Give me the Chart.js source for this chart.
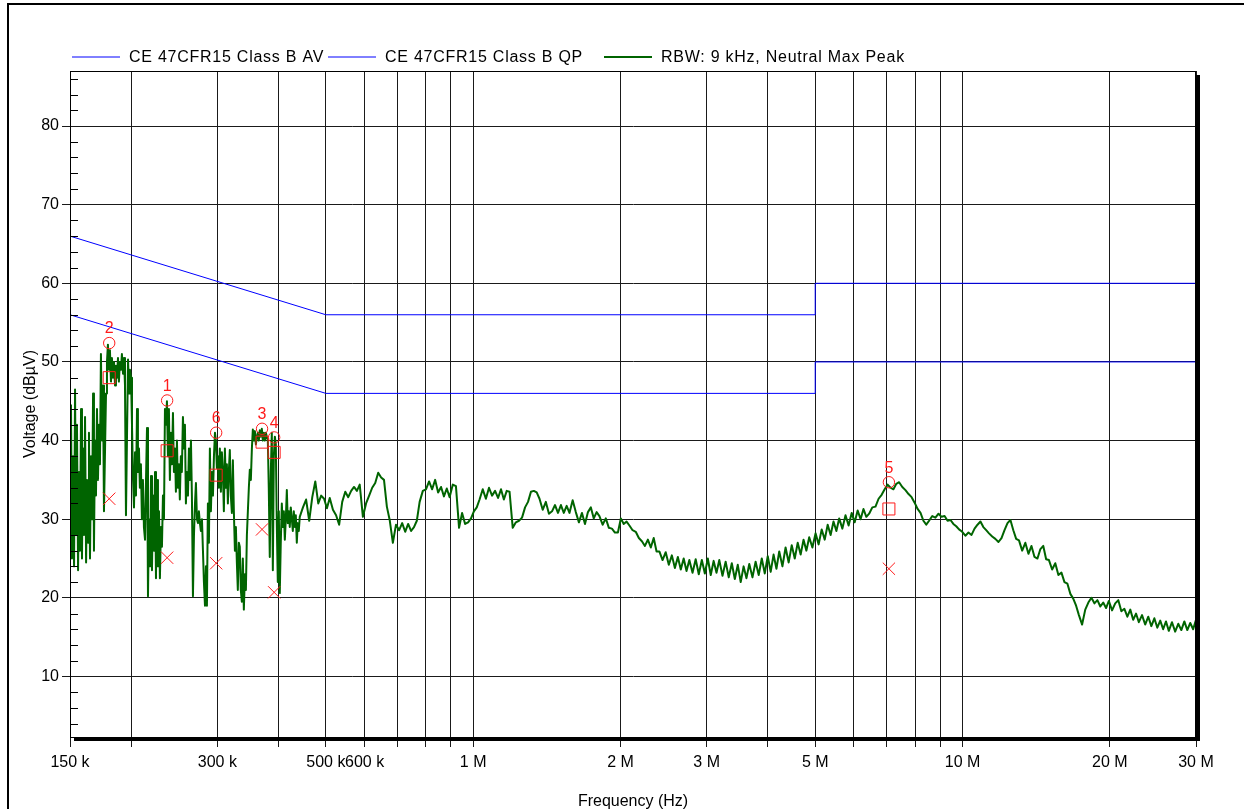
<!DOCTYPE html>
<html>
<head>
<meta charset="utf-8">
<title>Conducted emissions – Neutral</title>
<script src="https://cdn.jsdelivr.net/npm/chart.js@4.4.1/dist/chart.umd.min.js"></script>
<style>
  html, body { margin: 0; padding: 0; background: #fff; overflow: hidden; }
  #wrap { position: relative; width: 1244px; height: 809px; }
  #frame { position: absolute; left: 7px; top: 3px; width: 1400px; height: 1000px;
           border: 2px solid #000; box-sizing: border-box; pointer-events: none; }
  #c { position: absolute; left: 0; top: 0; }
</style>
</head>
<body>
<div id="wrap">
  <div id="frame"></div>
  <canvas id="c" width="1244" height="809"></canvas>
</div>
<script>
// ---- Axis ticks (frequency in kHz) ----
const xTickValues = [150, 200, 300, 400, 500, 600, 700, 800, 900,
                     1000, 2000, 3000, 4000, 5000, 6000, 7000, 8000, 9000,
                     10000, 20000, 30000];
const xTickLabels = ['150 k', '', '300 k', '', '500 k', '600 k', '', '', '',
                     '1 M', '2 M', '3 M', '', '5 M', '', '', '', '',
                     '10 M', '20 M', '30 M'];
const yTickValues = [10, 20, 30, 40, 50, 60, 70, 80];
const yTickLabels = ['10', '20', '30', '40', '50', '60', '70', '80'];

// ---- FCC Part 15 Class B conducted limits (dBµV) ----
const limitFreq = [150, 500, 5000, 5000, 30000];
const qpLimit   = [66, 56, 56, 60, 60];
const avLimit   = [56, 46, 46, 50, 50];

// ---- Neutral sweep, 150 kHz – 440 kHz (kHz / dBµV) ----
const sweepFreqA = [
  150.0,150.7,151.4,152.2,152.9,153.6,154.3,155.0,155.8,156.5,
  157.2,158.0,158.7,159.5,160.2,161.0,161.8,162.5,163.3,164.0,
  164.8,165.6,166.4,167.2,167.9,168.7,169.5,170.3,171.1,171.9,
  172.7,173.5,174.4,175.2,176.0,176.9,177.7,178.5,179.3,180.2,
  181.0,181.9,182.7,183.6,184.5,185.4,186.2,187.1,188.0,188.8,
  189.7,190.6,191.5,192.5,193.4,194.3,195.2,196.1,197.1,198.0,
  198.9,199.9,200.8,201.8,202.7,203.7,204.6,205.6,206.5,207.5,
  208.4,209.4,210.4,211.4,212.4,213.5,214.5,215.5,216.5,217.5,
  218.5,219.6,220.6,221.7,222.7,223.8,224.8,225.9,226.9,228.0,
  229.0,230.1,231.2,232.3,233.4,234.5,235.6,236.7,237.8,238.9,
  240.0,241.2,242.3,243.5,244.6,245.8,246.9,248.1,249.2,250.4,
  251.5,252.7,253.9,255.2,256.4,257.6,258.8,260.0,261.3,262.5,
  263.7,265.0,266.2,267.5,268.8,270.1,271.3,272.6,273.9,275.1,
  276.4,277.7,279.1,280.4,281.7,283.1,284.4,285.7,287.0,288.4,
  289.7,291.1,292.5,293.9,295.3,296.7,298.0,299.4,300.8,302.2,
  303.6,305.1,306.5,308.0,309.4,310.9,312.4,313.8,315.3,316.7,
  318.2,319.7,321.3,322.8,324.3,325.9,327.4,328.9,330.4,332.0,
  333.5,335.1,336.7,338.3,339.9,341.6,343.2,344.8,346.4,348.0,
  349.6,351.3,353.0,354.6,356.3,358.0,359.7,361.4,363.0,364.7,
  366.4,368.2,369.9,371.7,373.4,375.2,377.0,378.7,380.5,382.2,
  384.0,385.9,387.7,389.6,391.4,393.3,395.1,397.0,398.8,400.7,
  402.5,404.4,406.4,408.3,410.3,412.2,414.1,416.1,418.0,420.0,
  421.9,423.9,426.0,428.0,430.0,432.1,434.1,436.1,438.1,440.2
];
const sweepLevelA = [
  30,44.5,25,38,24,46.5,28,42,23.5,36,
  26,44,25,39,28,43,24.5,35,27,41,
  25,38,30,46,26,40,33,44,35,42,
  37,51,40,47,31,39,46,50,52.2,49,
  51.5,47.5,50.5,48,50,47,49.5,48,50.5,47.5,
  50,49,51,48.5,50.5,47,30.5,40,50.3,46,
  49,48,42,35,31.5,38.5,33,44,36,39,
  34,37,30,35,29,27.4,35,41.6,20.2,30,
  24,35.5,23.5,33,26,36,22.5,35,24,31,
  22.5,29,26.5,33,30,44,42,45,38,44,
  35,41,37,43.5,36,39,33.5,40,34,37,
  32.5,38,36,43,39,42,32,36,33,39,
  35,40,33,20.2,28,32,34.6,30,29.5,31,
  29.5,28.5,30,26,22,19,24,19,32,27,
  39,31,36,33,38,41,40,36.5,38,34,
  39,33.5,38.5,36,31,39,34,37,32,36,
  38.8,33,30.8,37.5,31,26,29,24.5,21,27,
  26.5,21,19.5,25,18.5,23,21,28,31,34,
  36.3,35,39,41.4,40,41.2,39.5,40.5,41,40,
  41.3,40.5,41.5,40,41,40,41,40.5,40,34,
  25.2,36,41,23.5,38,40.5,39.5,29,22,31,
  20.6,27,32,29,31,27.4,30,33.7,29.5,31,
  29,31.5,30,28.5,31,29,30.5,27,29.5,28.5
];

// ---- Neutral sweep, 442 kHz – 30 MHz (kHz / dBµV) ----
const sweepFreqB = [
  442.2,448.9,455.6,462.3,469.0,475.7,482.4,489.1,495.8,502.5,
  509.2,516.9,524.6,532.3,540.0,547.8,555.5,563.2,570.9,578.6,
  586.3,595.2,604.1,612.9,621.8,630.7,639.6,648.5,657.3,666.2,
  675.1,685.3,695.5,705.8,716.0,726.2,736.4,746.6,756.9,767.1,
  777.3,789.1,800.8,812.6,824.4,836.2,847.9,859.7,871.5,883.2,
  895.0,908.6,922.1,935.7,949.2,962.8,976.3,989.9,1003.4,1017.0,
  1030.5,1046.1,1061.7,1077.3,1092.9,1108.6,1124.2,1139.8,1155.4,1171.0,
  1186.6,1204.6,1222.5,1240.5,1258.5,1276.5,1294.4,1312.4,1330.4,1348.3,
  1366.3,1387.0,1407.7,1428.4,1449.1,1469.8,1490.4,1511.1,1531.8,1552.5,
  1573.2,1597.0,1620.8,1644.7,1668.5,1692.3,1716.1,1739.9,1763.8,1787.6,
  1811.4,1838.8,1866.3,1893.7,1921.1,1948.6,1976.0,2003.4,2030.8,2058.3,
  2085.7,2117.3,2148.9,2180.5,2212.1,2243.7,2275.2,2306.8,2338.4,2370.0,
  2401.6,2438.0,2474.3,2510.7,2547.1,2583.5,2619.8,2656.2,2692.6,2728.9,
  2765.3,2807.2,2849.0,2890.9,2932.8,2974.7,3016.5,3058.4,3100.3,3142.1,
  3184.0,3232.2,3280.4,3328.7,3376.9,3425.1,3473.3,3521.5,3569.8,3618.0,
  3666.2,3721.7,3777.2,3832.8,3888.3,3943.8,3999.3,4054.8,4110.4,4165.9,
  4221.4,4285.3,4349.2,4413.2,4477.1,4541.0,4604.9,4668.8,4732.8,4796.7,
  4860.6,4934.2,5007.8,5081.4,5155.0,5228.7,5302.3,5375.9,5449.5,5523.1,
  5596.7,5681.5,5766.2,5851.0,5935.7,6020.5,6105.2,6190.0,6274.7,6359.5,
  6444.2,6541.8,6639.4,6737.0,6834.6,6932.2,7029.7,7127.3,7224.9,7322.5,
  7420.1,7532.5,7644.8,7757.2,7869.5,7981.9,8094.3,8206.6,8319.0,8431.3,
  8543.7,8673.1,8802.5,8931.8,9061.2,9190.6,9320.0,9449.4,9578.7,9708.1,
  9837.5,9986.5,10135,10284,10433,10582,10731,10880,11029,11178,
  11327,11499,11670,11842,12013,12185,12357,12528,12700,12871,
  13043,13241,13438,13636,13833,14031,14228,14426,14623,14821,
  15018,15245,15473,15700,15928,16155,16382,16610,16837,17065,
  17292,17554,17816,18077,18339,18601,18863,19125,19386,19648,
  19910,20212,20513,20815,21116,21418,21719,22021,22322,22624,
  22925,23272,23619,23967,24314,24661,25008,25355,25703,26050,
  26397,26797,27198,27598,27998,28399,28799,29199,29600,30000
];
const sweepLevelB = [
  30.3,31.5,32.5,29.8,32.8,34.8,32.0,33.0,32.6,31.4,
  32.7,31.2,30.5,29.3,32.2,33.5,32.8,33.6,34.1,33.6,
  34.4,30.3,32.0,33.0,34.0,34.6,35.9,35.3,35.0,31.6,
  29.9,27.0,29.3,28.6,29.5,28.4,29.4,28.5,29.0,29.8,
  32.2,33.6,33.8,34.8,33.8,35.0,33.4,34.1,32.9,33.9,
  32.8,34.4,34.2,28.9,30.8,29.4,29.6,30.1,31.0,31.5,
  32.5,33.8,32.6,34.0,33.0,33.6,32.7,33.8,32.5,33.6,
  33.5,28.9,29.6,29.8,30.2,31.5,32.2,33.5,33.6,33.4,
  32.6,31.2,32.2,30.7,31.0,31.8,30.8,31.8,30.8,31.7,
  30.8,32.4,30.9,29.6,30.8,29.4,30.9,31.5,30.1,30.9,
  30.4,29.3,30.1,28.9,28.8,28.3,28.3,30.1,29.4,29.7,
  29.2,28.6,28.4,27.6,27.2,26.6,27.4,26.4,27.6,25.9,
  25.9,24.8,25.8,24.2,25.4,23.8,25.2,23.6,25.0,23.4,
  24.8,23.2,24.9,23.0,24.8,23.1,25.0,22.9,24.7,23.2,
  24.8,22.8,24.6,22.6,24.4,22.4,24.2,22.0,24.0,22.5,
  24.3,22.6,24.6,22.9,25.0,23.1,25.3,23.3,25.5,23.7,
  25.9,24.0,26.4,24.5,26.7,25.0,27.0,25.5,27.4,26.0,
  27.7,26.4,28.2,26.8,28.7,27.4,29.3,28.0,29.7,28.5,
  30.1,28.8,30.5,29.2,30.8,29.6,31.1,30.0,31.3,30.3,
  30.7,31.5,31.6,32.6,33.1,33.8,34.4,34.0,33.8,34.5,
  34.7,34.1,33.7,33.2,32.8,32.1,31.3,30.8,29.8,29.3,
  29.8,30.4,30.2,30.7,30.3,30.4,29.8,29.9,29.4,29.1,
  28.7,28.4,27.9,28.3,28.0,28.8,29.3,29.7,29.0,28.6,
  28.2,27.8,27.5,27.1,27.6,28.6,29.5,29.9,28.6,27.5,
  27.3,26.0,27.0,25.6,26.6,25.2,25.0,26.2,26.6,24.9,
  24.8,23.6,24.4,22.9,23.2,22.0,21.8,20.5,19.9,19.0,
  17.8,16.6,18.5,19.4,20.0,19.3,19.7,18.9,19.4,18.7,
  19.6,18.4,19.3,19.7,18.3,18.6,17.6,18.5,17.2,18.0,
  16.9,17.8,16.6,17.6,16.4,17.4,16.2,17.1,16.0,17.0,
  15.8,16.9,15.7,16.7,15.9,17.0,15.9,16.8,16.0,17.2
];

// ---- Final measurement markers ----
const markerLabels = ['1', '2', '3', '4', '5', '6'];
const markerFreq   = [236.9, 180.4, 370.3, 392.0, 7072, 298.4];
const markerPeak   = [45.1, 52.4, 41.5, 40.4, 34.7, 41.0];
const markerQP     = [38.7, 48.0, 39.8, 38.5, 31.3, 35.6];
const markerAV     = [25.1, 32.6, 28.7, 20.7, 23.7, 24.4];

// ---- Series names ----
const seriesNames = ['CE 47CFR15 Class B AV', 'CE 47CFR15 Class B QP', 'RBW: 9 kHz, Neutral Max Peak'];

const FONT = "'Liberation Sans', Arial, Helvetica, sans-serif";
const BLUE = '#0000ff';
const GREEN = '#006400';
const RED = '#ff1a1a';

const pts = (xs, ys) => xs.map((x, i) => ({ x: x, y: ys[i] }));

// plot frame with drop shadow, inner minor ticks, marker numbers and legend
const decorPlugin = {
  id: 'decor',
  afterDraw(chart) {
    const { ctx, chartArea: a, scales } = chart;
    ctx.save();
    // frame
    ctx.strokeStyle = '#000';
    ctx.lineWidth = 1;
    ctx.strokeRect(a.left + 0.5, a.top + 0.5, a.right - a.left - 1, a.bottom - a.top);
    // shadow on right and bottom edges
    ctx.fillStyle = '#000';
    ctx.fillRect(a.right, a.top + 4, 4, a.bottom - a.top);
    ctx.fillRect(a.left + 4, a.bottom, a.right - a.left, 4);
    // minor ticks on the voltage axis (every 2 dB), pointing into the plot
    const ys = scales.y;
    ctx.beginPath();
    for (let v = 4; v < ys.max; v += 2) {
      if (v % 10 === 0) continue;
      const py = Math.round(ys.getPixelForValue(v)) + 0.5;
      ctx.moveTo(a.left, py);
      ctx.lineTo(a.left + 8, py);
    }
    ctx.stroke();
    // marker numbers above the peak circles
    const meta = chart.getDatasetMeta(3);
    ctx.fillStyle = RED;
    ctx.font = '16px ' + FONT;
    ctx.textAlign = 'center';
    ctx.textBaseline = 'middle';
    meta.data.forEach((p, i) => ctx.fillText(markerLabels[i], p.x, p.y - 14));
    // legend row
    const legendX = [72, 328, 604];
    const ly = 57;
    ctx.textAlign = 'left';
    ctx.font = '16px ' + FONT;
    if ('letterSpacing' in ctx) ctx.letterSpacing = '0.75px';
    for (let i = 0; i < 3; i++) {
      const ds = chart.data.datasets[i];
      ctx.strokeStyle = ds.borderColor;
      ctx.lineWidth = i === 2 ? 2 : 1;
      ctx.beginPath();
      ctx.moveTo(legendX[i], ly);
      ctx.lineTo(legendX[i] + 48, ly);
      ctx.stroke();
      ctx.fillStyle = '#000';
      ctx.fillText(ds.label, legendX[i] + 57, ly + 1);
    }
    ctx.restore();
  }
};

const tickFont = { family: FONT, size: 16 };

new Chart(document.getElementById('c'), {
  type: 'line',
  data: {
    datasets: [
      { label: seriesNames[0], data: pts(limitFreq, avLimit), borderColor: BLUE, borderWidth: 1,
        pointRadius: 0, order: 3 },
      { label: seriesNames[1], data: pts(limitFreq, qpLimit), borderColor: BLUE, borderWidth: 1,
        pointRadius: 0, order: 3 },
      { label: seriesNames[2], data: pts(sweepFreqA.concat(sweepFreqB), sweepLevelA.concat(sweepLevelB)),
        borderColor: GREEN, borderWidth: 2, borderJoinStyle: 'round', pointRadius: 0, order: 2 },
      { label: 'Peak', data: pts(markerFreq, markerPeak), showLine: false, pointStyle: 'circle',
        pointRadius: 5.7, pointBorderColor: RED, pointBackgroundColor: 'rgba(0,0,0,0)', pointBorderWidth: 1, order: 1 },
      { label: 'QP', data: pts(markerFreq, markerQP), showLine: false, pointStyle: 'rect',
        pointRadius: 8.5, pointBorderColor: RED, pointBackgroundColor: 'rgba(0,0,0,0)', pointBorderWidth: 1, order: 1 },
      { label: 'AV', data: pts(markerFreq, markerAV), showLine: false, pointStyle: 'crossRot',
        pointRadius: 8.7, pointBorderColor: RED, pointBorderWidth: 1, order: 1 }
    ]
  },
  options: {
    responsive: false,
    animation: false,
    events: [],
    layout: { padding: { top: 71, right: 48, left: 0, bottom: 0 } },
    plugins: { legend: { display: false }, tooltip: { enabled: false } },
    scales: {
      x: {
        type: 'logarithmic',
        min: 150, max: 30000,
        afterBuildTicks: s => { s.ticks = xTickValues.map(v => ({ value: v })); },
        afterFit: s => { s.height = 72; },
        ticks: { autoSkip: false, maxRotation: 0, minRotation: 0, padding: 6, color: '#000',
                 font: tickFont, callback: (v, i) => xTickLabels[i] },
        grid: { color: '#1a1a1a', lineWidth: 1, tickLength: 10 },
        border: { display: true, color: '#000', width: 1 },
        title: { display: true, text: 'Frequency (Hz)', color: '#000', font: tickFont,
                 padding: { top: 0, bottom: -2 } }
      },
      y: {
        min: 2.3, max: 87,
        afterBuildTicks: s => { s.ticks = yTickValues.map(v => ({ value: v })); },
        afterFit: s => { s.width = 70; },
        ticks: { padding: 3, color: '#000', font: tickFont, callback: (v, i) => yTickLabels[i] },
        grid: { color: '#1a1a1a', lineWidth: 1, tickLength: 8 },
        border: { display: true, color: '#000', width: 1 },
        title: { display: true, text: 'Voltage (dBµV)', color: '#000', font: tickFont,
                 padding: { top: 21, bottom: 0 } }
      }
    }
  },
  plugins: [decorPlugin]
});
</script>
</body>
</html>
